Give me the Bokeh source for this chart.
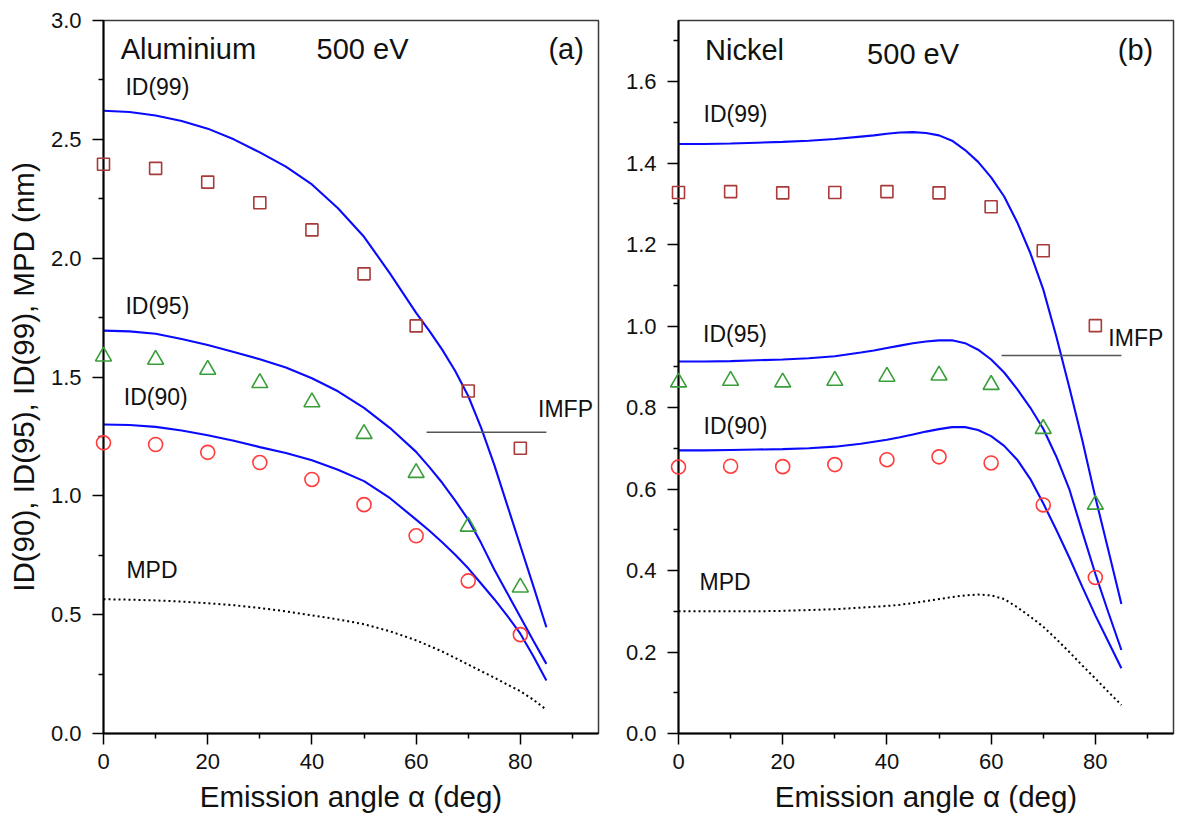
from bokeh.plotting import figure
from bokeh.layouts import row
from bokeh.models import FixedTicker, Range1d, PrintfTickFormatter
from bokeh.core.properties import value
from bokeh.embed import file_html
from bokeh.resources import INLINE

FONT = "Liberation Sans"

# ---------------- data ----------------
# experimental points (emission angle, deg)
angles_exp = [0, 10, 20, 30, 40, 50, 60, 70, 80]

al_id99_exp = [2.395, 2.378, 2.320, 2.233, 2.119, 1.934, 1.715, 1.441, 1.200]
al_id95_exp = [1.587, 1.573, 1.531, 1.475, 1.394, 1.261, 1.097, 0.871, 0.615]
al_id90_exp = [1.223, 1.216, 1.183, 1.140, 1.069, 0.963, 0.832, 0.642, 0.416]

ni_id99_exp = [1.328, 1.330, 1.327, 1.328, 1.330, 1.327, 1.293, 1.185, 1.001]
ni_id95_exp = [0.862, 0.866, 0.862, 0.866, 0.876, 0.879, 0.856, 0.748, 0.562]
ni_id90_exp = [0.654, 0.656, 0.655, 0.660, 0.672, 0.679, 0.664, 0.561, 0.383]

# theoretical curves
al_angles_th = [0, 5, 10, 15, 20, 25, 30, 35, 40, 45, 50, 55, 60, 62.5, 65,
                67.5, 70, 72.5, 75, 77.5, 80, 82.5, 85]
al_id99_th = [2.620, 2.615, 2.600, 2.577, 2.545, 2.500, 2.445, 2.385, 2.310, 2.210,
              2.090, 1.935, 1.770, 1.695, 1.615, 1.525, 1.420, 1.285, 1.130, 0.960,
              0.790, 0.620, 0.447]
al_id95_th = [1.695, 1.692, 1.682, 1.660, 1.635, 1.605, 1.575, 1.540, 1.495, 1.440,
              1.370, 1.285, 1.185, 1.122, 1.055, 0.980, 0.900, 0.800, 0.690, 0.590,
              0.490, 0.390, 0.293]
al_id90_th = [1.300, 1.298, 1.290, 1.275, 1.255, 1.232, 1.205, 1.180, 1.150, 1.110,
              1.062, 0.990, 0.900, 0.854, 0.805, 0.752, 0.695, 0.630, 0.565, 0.495,
              0.420, 0.325, 0.223]
al_mpd_th = [0.565, 0.563, 0.560, 0.555, 0.548, 0.540, 0.528, 0.514, 0.497, 0.480,
             0.460, 0.430, 0.392, 0.369, 0.345, 0.318, 0.290, 0.262, 0.235, 0.206,
             0.178, 0.142, 0.100]

ni_angles_th = [0, 5, 10, 15, 20, 25, 30, 35, 37.5, 40, 42.5, 45, 47.5, 50, 52.5,
                55, 57.5, 60, 62.5, 65, 67.5, 70, 72.5, 75, 77.5, 80, 82.5, 85]
ni_id99_th = [1.447, 1.447, 1.448, 1.450, 1.452, 1.455, 1.459, 1.465, 1.468, 1.472,
              1.475, 1.476, 1.474, 1.468, 1.455, 1.432, 1.403, 1.365, 1.318, 1.255,
              1.180, 1.090, 0.975, 0.850, 0.720, 0.580, 0.450, 0.318]
ni_id95_th = [0.913, 0.913, 0.914, 0.916, 0.918, 0.921, 0.926, 0.935, 0.940, 0.946,
              0.952, 0.958, 0.962, 0.965, 0.965, 0.958, 0.942, 0.918, 0.886, 0.845,
              0.800, 0.748, 0.680, 0.600, 0.495, 0.392, 0.297, 0.205]
ni_id90_th = [0.695, 0.695, 0.696, 0.697, 0.698, 0.700, 0.704, 0.711, 0.716, 0.721,
              0.727, 0.734, 0.741, 0.747, 0.752, 0.752, 0.745, 0.730, 0.706, 0.672,
              0.625, 0.565, 0.500, 0.432, 0.360, 0.290, 0.225, 0.160]
ni_mpd_th = [0.300, 0.300, 0.300, 0.300, 0.301, 0.303, 0.305, 0.309, 0.311, 0.313,
             0.316, 0.320, 0.325, 0.330, 0.335, 0.339, 0.341, 0.339, 0.330, 0.310,
             0.287, 0.262, 0.232, 0.200, 0.167, 0.135, 0.102, 0.070]

al_imfp = 1.268
ni_imfp = 0.928

x_ticks = [0, 20, 40, 60, 80]
x_minor = [10, 30, 50, 70, 90]
al_y_ticks = [0.0, 0.5, 1.0, 1.5, 2.0, 2.5, 3.0]
al_y_minor = [0.25, 0.75, 1.25, 1.75, 2.25, 2.75]
ni_y_ticks = [0.0, 0.2, 0.4, 0.6, 0.8, 1.0, 1.2, 1.4, 1.6]
ni_y_minor = [0.1, 0.3, 0.5, 0.7, 0.9, 1.1, 1.3, 1.5, 1.7]

BLUE = "#0a0aff"
SQ_COL = "#a83a3a"
TRI_COL = "#3a9e3a"
CIR_COL = "#ff3b3b"
TXT = "#111111"


def style_axes(p, yticks, yminor, ylabel):
    p.grid.visible = False
    p.outline_line_color = "#3a3a3a"
    p.outline_line_width = 1.5
    p.background_fill_color = "white"
    p.border_fill_color = "white"
    p.xaxis.ticker = FixedTicker(ticks=x_ticks, minor_ticks=x_minor)
    p.yaxis.ticker = FixedTicker(ticks=yticks, minor_ticks=yminor)
    p.yaxis.formatter = PrintfTickFormatter(format="%.1f")
    for ax in (p.xaxis, p.yaxis):
        ax.axis_line_color = "black"
        ax.axis_line_width = 2
        ax.major_tick_line_color = "black"
        ax.major_tick_line_width = 1.5
        ax.minor_tick_line_color = "black"
        ax.minor_tick_line_width = 1.5
        ax.major_tick_in = 0
        ax.major_tick_out = 11
        ax.minor_tick_in = 0
        ax.minor_tick_out = 5
        ax.major_label_text_font = FONT
        ax.major_label_text_font_size = "22px"
        ax.major_label_text_color = TXT
        ax.axis_label_text_font = FONT
        ax.axis_label_text_font_size = "29.5px"
        ax.axis_label_text_font_style = "normal"
        ax.axis_label_text_color = TXT
    p.xaxis.major_label_standoff = 9
    p.yaxis.major_label_standoff = 11
    p.xaxis.axis_label = "Emission angle \u03b1 (deg)"
    p.xaxis.axis_label_standoff = 8
    if ylabel:
        p.yaxis.axis_label = ylabel
        p.yaxis.axis_label_standoff = 8


def add_text(p, xs, ys, texts, size, align="left"):
    p.text(x=xs, y=ys, text=texts, text_font=value(FONT),
           text_font_size=value(size), text_color=TXT,
           text_baseline="alphabetic", text_align=align, y_offset=-10)


def panel(width, left, right, ymax, yticks, yminor, ylabel,
          th_x, id99, id95, id90, mpd, e99, e95, e90, imfp):
    p = figure(width=width, height=820, x_range=Range1d(0, 95),
               y_range=Range1d(0, ymax), output_backend="svg",
               toolbar_location=None, min_border_left=left,
               min_border_right=right, min_border_top=20,
               min_border_bottom=87)
    style_axes(p, yticks, yminor, ylabel)
    for ys in (id99, id95, id90):
        p.line(th_x, ys, line_color=BLUE, line_width=2.1)
    p.line(th_x, mpd, line_color="black", line_width=2, line_dash="2 3")
    p.line([62, 85], [imfp, imfp], line_color="#555555", line_width=1.5)
    p.scatter(angles_exp, e99, marker="square", size=12, fill_color=None,
              line_color=SQ_COL, line_width=1.6, level="overlay")
    p.scatter(angles_exp, e95, marker="triangle", size=16, fill_color=None,
              line_color=TRI_COL, line_width=1.6, level="overlay")
    p.scatter(angles_exp, e90, marker="circle", size=14, fill_color=None,
              line_color=CIR_COL, line_width=1.6, level="overlay")
    return p


p1 = panel(600, 103, 2, 3.0, al_y_ticks, al_y_minor,
           "ID(90), ID(95), ID(99), MPD (nm)",
           al_angles_th, al_id99_th, al_id95_th, al_id90_th, al_mpd_th,
           al_id99_exp, al_id95_exp, al_id90_exp, al_imfp)
add_text(p1, [3.3, 40.9], [2.84, 2.84], ["Aluminium", "500 eV"], "29px")
add_text(p1, [92.2], [2.84], ["(a)"], "29px", align="right")
add_text(p1, [4.2, 4.2, 3.9, 4.4, 83.4], [2.68, 1.758, 1.373, 0.644, 1.325],
         ["ID(99)", "ID(95)", "ID(90)", "MPD", "IMFP"], "23px")

p2 = panel(577, 78, 4, 1.75, ni_y_ticks, ni_y_minor, None,
           ni_angles_th, ni_id99_th, ni_id95_th, ni_id90_th, ni_mpd_th,
           ni_id99_exp, ni_id95_exp, ni_id90_exp, ni_imfp)
add_text(p2, [5.1, 36.2], [1.652, 1.644], ["Nickel", "500 eV"], "29px")
add_text(p2, [91.1], [1.652], ["(b)"], "29px", align="right")
add_text(p2, [4.8, 4.7, 4.8, 4.05, 82.5], [1.497, 0.957, 0.731, 0.347, 0.947],
         ["ID(99)", "ID(95)", "ID(90)", "MPD", "IMFP"], "23px")

layout = row(p1, p2)
open("out.html", "w").write(file_html(layout, INLINE))
